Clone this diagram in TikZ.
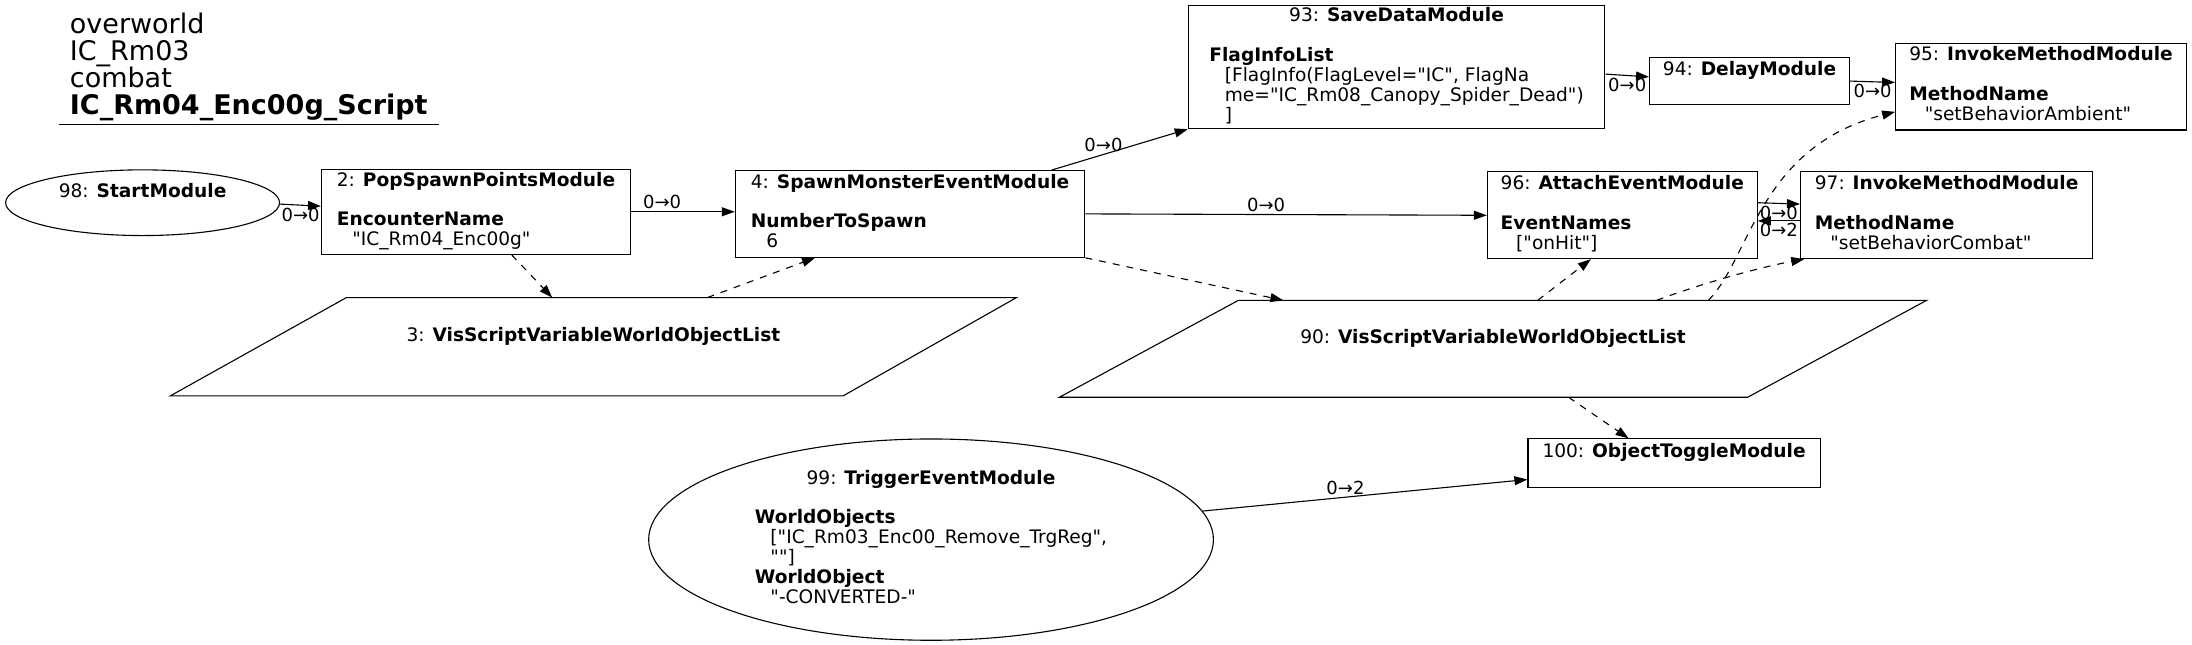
\documentclass[tikz,border=0pt]{standalone}
\usepackage{fontspec}
\setmainfont{DejaVu Sans}[Ligatures=TeXOff]
\usetikzlibrary{arrows.meta,calc,shapes.geometric}
\newcommand{\mytitle}[1]{\multicolumn{1}{@{}c@{}}{#1}}
\newcommand{\myind}{\hspace*{15.5pt}}
\tikzset{
  mod/.style={draw, rectangle, inner sep=0pt, line width=1.1pt, font=\fontsize{18.6}{19.6}\selectfont},
  ell/.style={draw, ellipse, inner sep=0pt, line width=1.1pt, font=\fontsize{18.6}{19.6}\selectfont},
  para/.style={rectangle, inner sep=0pt, font=\fontsize{18.6}{19.6}\selectfont},
  lbl/.style={font=\fontsize{18}{19.6}\selectfont, inner sep=2pt},
  flow/.style={-{Triangle[length=13pt,width=9pt]}, line width=1.1pt},
  dep/.style={flow, dash pattern=on 7pt off 7pt},
}
\begin{document}
\begin{tikzpicture}[x=1.398pt,y=-1.398pt]
\useasboundingbox (0,0) rectangle (1568,461);

% title
\node[anchor=north west, align=left, inner xsep=11pt, inner ysep=3.4pt,
  font=\fontsize{27}{27}\selectfont] (title) at (42,6.5)
  {overworld\\IC\_Rm03\\combat\\\textbf{IC\_Rm04\_Enc00g\_Script}};
\draw[line width=1.1pt] (title.south west) -- (title.south east);

% nodes
\node[ell, minimum width=274pt, minimum height=65.7pt] (n98) at (102,145)
  {\begin{tabular}{@{}l@{}}98: \textbf{StartModule}\\ \\\end{tabular}};
\node[mod, minimum width=309pt, minimum height=85pt] (n2) at (340.5,151.5)
  {\begin{tabular}{@{}l@{}}\mytitle{2: \textbf{PopSpawnPointsModule}}\\ \\ \textbf{EncounterName}\\ \myind"IC\_Rm04\_Enc00g"\end{tabular}};
\node[mod, minimum width=349.5pt, minimum height=86.7pt] (n4) at (651,153)
  {\begin{tabular}{@{}l@{}}\mytitle{4: \textbf{SpawnMonsterEventModule}}\\ \\ \textbf{NumberToSpawn}\\ \myind 6\end{tabular}};
\node[mod, minimum width=416.6pt, minimum height=123pt] (n93) at (999,48)
  {\begin{tabular}{@{}l@{}}\mytitle{93: \textbf{SaveDataModule}}\\ \\ \textbf{FlagInfoList}\\ \myind[FlagInfo(FlagLevel="IC", FlagNa\\ \myind me="IC\_Rm08\_Canopy\_Spider\_Dead")\\ \myind]\end{tabular}};
\node[mod, minimum width=200pt, minimum height=47.5pt] (n94) at (1251.5,58)
  {\begin{tabular}{@{}l@{}}94: \textbf{DelayModule}\\ \\\end{tabular}};
\node[mod, minimum width=290.8pt, minimum height=86.7pt] (n95) at (1460,62)
  {\begin{tabular}{@{}l@{}}\mytitle{95: \textbf{InvokeMethodModule}}\\ \\ \textbf{MethodName}\\ \myind"setBehaviorAmbient"\end{tabular}};
\node[mod, minimum width=269.8pt, minimum height=86.7pt] (n96) at (1160.5,154)
  {\begin{tabular}{@{}l@{}}\mytitle{96: \textbf{AttachEventModule}}\\ \\ \textbf{EventNames}\\ \myind["onHit"]\end{tabular}};
\node[mod, minimum width=292.2pt, minimum height=86.7pt] (n97) at (1392.5,154)
  {\begin{tabular}{@{}l@{}}\mytitle{97: \textbf{InvokeMethodModule}}\\ \\ \textbf{MethodName}\\ \myind"setBehaviorCombat"\end{tabular}};
\node[mod, minimum width=292.2pt, minimum height=49pt] (n100) at (1197.5,331.5)
  {\begin{tabular}{@{}l@{}}100: \textbf{ObjectToggleModule}\\ \\\end{tabular}};
\node[ell, minimum width=564.8pt, minimum height=201.3pt] (n99) at (666,386)
  {\begin{tabular}{@{}l@{}}\mytitle{99: \textbf{TriggerEventModule}}\\ \\ \textbf{WorldObjects}\\ \myind["IC\_Rm03\_Enc00\_Remove\_TrgReg",\\ \myind""]\\ \textbf{WorldObject}\\ \myind"-CONVERTED-"\end{tabular}};

% parallelograms
\node[para, minimum width=845.8pt, minimum height=97.9pt] (p3) at (424.5,248)
  {\begin{tabular}{@{}l@{}}3: \textbf{VisScriptVariableWorldObjectList}\\ \\\end{tabular}};
\draw[line width=1.1pt] (p3.south west) -- ($(p3.north west)+(126,0)$) -- (p3.north east)
  -- ($(p3.south east)+(-124,0)$) -- cycle;
\node[para, minimum width=866.8pt, minimum height=96.5pt] (p90) at (1068,249.5)
  {\begin{tabular}{@{}l@{}}90: \textbf{VisScriptVariableWorldObjectList}\\ \\\end{tabular}};
\draw[line width=1.1pt] (p90.south west) -- ($(p90.north west)+(128,0)$) -- (p90.north east)
  -- ($(p90.south east)+(-128,0)$) -- cycle;

% flow edges
\draw[flow] ($(n98.east)+(0,1)$) -- ($(n2.west)+(0,-4)$) node[lbl, below, pos=0.5] {0→0};
\draw[flow] (n2.east) -- (n2.east -| n4.west) node[lbl, above, pos=0.3] {0→0};
\draw[flow] ($(n4.north east)+(-24,0)$) -- (n93.south west) node[lbl, above, pos=0.38] {0→0};
\draw[flow] (n4.east) -- (n96.west) node[lbl, above, pos=0.45] {0→0};
\draw[flow] ($(n93.east)+(0,5)$) -- ($(n94.west)+(0,-3)$) node[lbl, below, pos=0.5] {0→0};
\draw[flow] (n94.east) -- ($(n95.west)+(0,-3)$) node[lbl, below, pos=0.5] {0→0};
\draw[flow] ($(n96.east)+(0,-9)$) -- ($(n97.west)+(0,-8)$) node[lbl, below, pos=0.5] {0→0};
\draw[flow] ($(n97.west)+(0,4)$) -- ($(n96.east)+(0,4)$) node[lbl, below, pos=0.5] {0→2};
\draw[flow] (n99.6) -- ($(n100.west)+(0,11.5)$) node[lbl, above, pos=0.44] {0→2};

% dependency edges
\draw[dep] ($(n2.south)+(25.5,0)$) -- ($(p3.north)+(-29.5,0)$);
\draw[dep] ($(p3.north)+(81.5,0)$) -- ($(n4.south)+(-68,0)$);
\draw[dep] (n4.south east) -- ($(p90.north)+(-150,0)$);
\draw[dep] ($(p90.north)+(32,0)$) -- ($(n96.south)+(-22.5,0)$);
\draw[dep] ($(p90.north)+(117,0)$) .. controls (1225,200) and (1265,190) .. ($(n97.south west)+(3,0)$);
\draw[dep] ($(p90.north)+(154,0)$) .. controls (1252,185) and (1258,105) .. ($(n95.west)+(0,18)$);
\draw[dep] ($(p90.south)+(54,0)$) -- ($(n100.north)+(-32.5,0)$);
\end{tikzpicture}
\end{document}
